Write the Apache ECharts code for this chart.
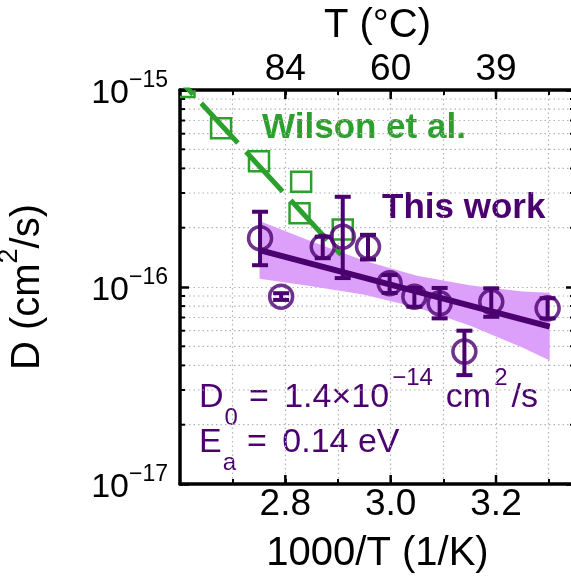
<!DOCTYPE html>
<html><head><meta charset="utf-8">
<script src="https://cdn.jsdelivr.net/npm/echarts@6/dist/echarts.min.js"></script>
<style>html,body{margin:0;padding:0;background:#fff}#c{width:571px;height:582px}</style>
</head><body><div id="c"></div>
<script>
// ---- data ----
const thisWorkX  = [2.752, 2.792, 2.871, 2.909, 2.957, 2.998, 3.045, 3.093, 3.140, 3.191, 3.298];
const thisWorkD  = [1.77e-16, 8.93e-17, 1.60e-16, 1.80e-16, 1.60e-16, 1.045e-16, 8.93e-17, 8.26e-17, 4.70e-17, 8.41e-17, 7.80e-17];
const thisWorkLo = [1.29e-16, 8.6e-17, 1.40e-16, 1.11e-16, 1.38e-16, 9.33e-17, 7.94e-17, 6.93e-17, 3.57e-17, 7.06e-17, 6.93e-17];
const thisWorkHi = [2.41e-16, 9.3e-17, 1.80e-16, 2.87e-16, 1.84e-16, 1.15e-16, 9.89e-17, 9.89e-17, 6.0e-17, 9.85e-17, 8.77e-17];
const fitX = [2.751, 3.302];
const fitD = [1.54e-16, 6.29e-17];
const bandX  = [2.751, 2.85, 2.95, 3.05, 3.15, 3.25, 3.302];
const bandHi = [2.16e-16, 1.70e-16, 1.36e-16, 1.14e-16, 1.02e-16, 9.48e-17, 9.35e-17];
const bandLo = [1.10e-16, 1.01e-16, 9.14e-17, 7.86e-17, 6.37e-17, 4.93e-17, 4.23e-17];
const wilsonX = [2.6085, 2.678, 2.750, 2.830, 2.827, 2.909];
const wilsonD = [1.035e-15, 6.39e-16, 4.35e-16, 3.42e-16, 2.37e-16, 1.96e-16];
const wilsonFitX = [2.6, 2.906];
const wilsonFitD = [1.12e-15, 1.455e-16];
const xMin = 2.6, xMax = 3.35, yMin = 1e-17, yMax = 1e-15;
const xTickVals = [2.8, 3.0, 3.2];
const xTickLabels = ['2.8', '3.0', '3.2'];
const topTickLabels = ['84', '60', '39'];
const yMinorVals = [2e-17,3e-17,4e-17,5e-17,6e-17,7e-17,8e-17,9e-17,2e-16,3e-16,4e-16,5e-16,6e-16,7e-16,8e-16,9e-16];

// ---- style ----
const PURPLE = '#4b0070', GREEN = '#2ca02c', BAND = '#dda0fa', GRID = '#b4b4b4';
const FONT = '"Liberation Sans", Arial, sans-serif';
const gridLine = {show:true, lineStyle:{color:GRID, width:1.2, type:[1.5,3]}};

function findIdx(arr, v){ for(let i=0;i<arr.length;i++){ if(Math.abs(arr[i]-v)<1e-6) return i; } return -1; }
function expLabel(v){ const e = Math.round(Math.log10(v)); return '{b|10}{s|' + (e<0?'\u2212':'') + Math.abs(e) + '}'; }

const chart = echarts.init(document.getElementById('c'), null, {renderer:'canvas'});
const axisCommon = {
  min:xMin, max:xMax, interval:0.1,
  axisLine:{show:true, onZero:false, lineStyle:{color:'#000', width:3.5}},
  axisTick:{show:true, inside:true, length:5, lineStyle:{color:'#000', width:2}},
};
const base = {fontSize:34, lineHeight:64, verticalAlign:'middle', fill:PURPLE, fontFamily:FONT};
const annRich = {
  m: base,
  mEq: Object.assign({}, base, {padding:[0,0,0,9]}),
  mNum: Object.assign({}, base, {padding:[0,0,0,6]}),
  mCm: Object.assign({}, base, {padding:[0,0,0,11]}),
  mS: Object.assign({}, base, {padding:[0,0,0,2]}),
  sup:{fontSize:24, lineHeight:22, verticalAlign:'top', fill:PURPLE, fontFamily:FONT, padding:[0,2,0,3]},
  sub:{fontSize:24, lineHeight:36, verticalAlign:'bottom', fill:PURPLE, fontFamily:FONT, padding:[0,2,0,1]}
};
chart.setOption({
  animation:false,
  textStyle:{fontFamily:FONT},
  grid:{left:180, top:90, width:395, height:394, containLabel:false, outerBoundsMode:'none'},
  xAxis:[
    Object.assign({type:'value', position:'bottom',
      name:'1000/T (1/K)', nameLocation:'middle', nameGap:50,
      nameTextStyle:{fontSize:40, color:'#000', fontFamily:FONT, lineHeight:40},
      splitLine:gridLine,
      axisLabel:{margin:2, fontSize:37, lineHeight:37, color:'#000', fontFamily:FONT,
        showMinLabel:true, showMaxLabel:true,
        formatter:v=>{const i=findIdx(xTickVals,v); return i>=0?xTickLabels[i]:'';}}
    }, axisCommon),
    Object.assign({type:'value', position:'top',
      name:'T (\u00b0C)', nameLocation:'middle', nameGap:40,
      nameTextStyle:{fontSize:40, color:'#000', fontFamily:FONT, lineHeight:40},
      splitLine:{show:false},
      axisLabel:{margin:2, fontSize:37, lineHeight:37, color:'#000', fontFamily:FONT,
        formatter:v=>{const i=findIdx(xTickVals,v); return i>=0?topTickLabels[i]:'';}}
    }, axisCommon)
  ],
  yAxis:[
    {type:'log', logBase:10, min:yMin, max:yMax, position:'left',
     name:'{a|D (cm}{s|2}{a|/s)}', nameLocation:'middle', nameGap:132,
     nameTextStyle:{color:'#000', fontFamily:FONT,
       rich:{a:{fontSize:40, lineHeight:52, verticalAlign:'bottom', fontFamily:FONT, color:'#000'},
             s:{fontSize:27, lineHeight:26, verticalAlign:'top', fontFamily:FONT, color:'#000'}}},
     axisLine:{show:true, onZero:false, lineStyle:{color:'#000', width:3.5}},
     axisTick:{show:true, inside:true, length:9, lineStyle:{color:'#000', width:2.5}},
     splitLine:gridLine,
     axisLabel:{margin:12, color:'#000', fontFamily:FONT, formatter:expLabel,
       rich:{b:{fontSize:34, lineHeight:41, verticalAlign:'bottom', fontFamily:FONT, color:'#000'},
             s:{fontSize:23, lineHeight:24, padding:[0,0,28,0], verticalAlign:'top', fontFamily:FONT, color:'#000'}}}
    },
    {type:'log', logBase:10, min:yMin, max:yMax, position:'right',
     axisLine:{show:true, onZero:false, lineStyle:{color:'#000', width:3.5}},
     axisTick:{show:true, inside:true, length:9, lineStyle:{color:'#000', width:2.5}},
     splitLine:{show:false}, axisLabel:{show:false}}
  ],
  series:[
    {type:'custom', z:1, silent:true, data:yMinorVals.map(v=>[xMin, v]),
     renderItem:(p, api)=>{
       const v = api.value(1);
       const a = api.coord([xMin, v]), b = api.coord([xMax, v]);
       return {type:'group', children:[
         {type:'line', shape:{x1:a[0], y1:a[1], x2:b[0], y2:b[1]}, style:{stroke:GRID, lineWidth:1.2, lineDash:[1.5,3]}},
         {type:'line', shape:{x1:a[0], y1:a[1], x2:a[0]+5, y2:a[1]}, style:{stroke:'#000', lineWidth:2}},
         {type:'line', shape:{x1:b[0]-5, y1:b[1], x2:b[0], y2:b[1]}, style:{stroke:'#000', lineWidth:2}}
       ]};
     }},
    {type:'custom', z:5, silent:true, data:xTickVals.map(v=>[v, yMin]),
     renderItem:(p, api)=>{
       const x = api.value(0);
       const a = api.coord([x, yMin]), b = api.coord([x, yMax]);
       return {type:'group', children:[
         {type:'line', shape:{x1:a[0], y1:a[1], x2:a[0], y2:a[1]-9}, style:{stroke:'#000', lineWidth:2.5}},
         {type:'line', shape:{x1:b[0], y1:b[1], x2:b[0], y2:b[1]+9}, style:{stroke:'#000', lineWidth:2.5}}
       ]};
     }},
    {type:'custom', z:2, silent:true, data:[[bandX[0], bandHi[0]]],
     renderItem:(p, api)=>{
       const pts = [];
       for (let i=0;i<bandX.length;i++) pts.push(api.coord([bandX[i], bandHi[i]]));
       for (let i=bandX.length-1;i>=0;i--) pts.push(api.coord([bandX[i], bandLo[i]]));
       return {type:'polygon', shape:{points:pts}, style:{fill:BAND}};
     }},
    {type:'line', z:3, data:wilsonFitX.map((x,i)=>[x, wilsonFitD[i]]), symbol:'none', clip:true,
     lineStyle:{color:GREEN, width:5, type:[54,12], dashOffset:34.7}},
    {type:'custom', z:4, clip:true, data:wilsonX.map((x,i)=>[x, wilsonD[i]]),
     renderItem:(p, api)=>{
       const c = api.coord([api.value(0), api.value(1)]);
       return {type:'rect', shape:{x:c[0]-10, y:c[1]-10, width:20, height:20}, style:{fill:'none', stroke:GREEN, lineWidth:2.5}};
     }},
    {type:'line', z:5, data:fitX.map((x,i)=>[x, fitD[i]]), symbol:'none', lineStyle:{color:PURPLE, width:6}},
    {type:'custom', z:6, data:thisWorkX.map((x,i)=>[x, thisWorkLo[i], thisWorkHi[i]]),
     renderItem:(p, api)=>{
       const x = api.value(0);
       const lo = api.coord([x, api.value(1)]), hi = api.coord([x, api.value(2)]);
       const st = {stroke:PURPLE, lineWidth:4};
       return {type:'group', children:[
         {type:'line', shape:{x1:lo[0], y1:lo[1], x2:hi[0], y2:hi[1]}, style:st},
         {type:'line', shape:{x1:lo[0]-8, y1:lo[1], x2:lo[0]+8, y2:lo[1]}, style:st},
         {type:'line', shape:{x1:hi[0]-8, y1:hi[1], x2:hi[0]+8, y2:hi[1]}, style:st}
       ]};
     }},
    {type:'scatter', z:7, data:thisWorkX.map((x,i)=>[x, thisWorkD[i]]), symbol:'circle', symbolSize:23,
     itemStyle:{color:'rgba(0,0,0,0)', borderColor:PURPLE, borderWidth:3.5}}
  ],
  graphic:[
    {type:'text', x:262, y:128, style:{text:'Wilson et al.', fill:GREEN, font:'bold 35px '+FONT, align:'left', verticalAlign:'middle'}},
    {type:'text', x:382, y:208, style:{text:'This work', fill:PURPLE, font:'bold 35px '+FONT, align:'left', verticalAlign:'middle'}},
    {type:'text', x:199, y:398, style:{text:'{m|D}{sub|0}{mEq|=}{mNum| 1.4\u00d710}{sup|\u221214}{mCm|cm}{sup|2}{mS|/s}', align:'left', verticalAlign:'middle', rich:annRich}},
    {type:'text', x:199, y:443, style:{text:'{m|E}{sub|a}{mEq|=}{mNum| 0.14 eV}', align:'left', verticalAlign:'middle', rich:annRich}}
  ]
});
</script></body></html>
